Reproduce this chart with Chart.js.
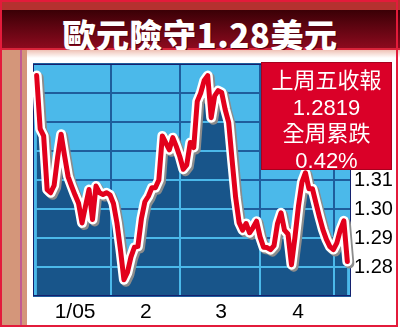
<!DOCTYPE html>
<html>
<head>
<meta charset="utf-8">
<script src="https://cdn.jsdelivr.net/npm/chart.js@4.4.1/dist/chart.umd.min.js"></script>
<style>
  html, body { margin: 0; padding: 0; width: 400px; height: 329px; overflow: hidden; background: #fff; }
  #wrap { position: relative; width: 400px; height: 329px; }
  #topband { position: absolute; left: 0; top: 0; width: 400px; height: 10px; background: #b5312f; }
  #titlebar { position: absolute; left: 0; top: 10px; width: 400px; height: 38px; background: linear-gradient(#3a0006, #8c0a1e); border-bottom: 2px solid #d8243a; }
  #title { position: absolute; left: 0; top: 10px; width: 400px; height: 38px; line-height: 38px; text-align: center; color: #fff;
           font: 900 33px "Noto Sans CJK TC", "Noto Sans CJK SC", sans-serif; letter-spacing: 0.5px; text-shadow: 1px 1px 0 #5a0010; }
  #pink { position: absolute; left: 0; top: 50px; width: 400px; height: 8px; background: linear-gradient(#efc2b6, #fff); }
  #strip { position: absolute; left: 2px; top: 50px; width: 25px; height: 277px; background: #d4967a; }
  #stripline { position: absolute; left: 20px; top: 50px; width: 2px; height: 277px; background: #c25a92; }
  #frame { position: absolute; left: 0; top: 0; width: 398px; height: 327px; box-sizing: border-box; border: 2px solid #e31b3b; z-index: 5; }
  canvas { position: absolute; left: 0; top: 0; }
  #box { position: absolute; left: 261px; top: 62px; width: 131px; height: 108px; box-sizing: border-box; background: #da0028;
         border: 1px solid #a8001e; color: #fff; text-align: center; padding-top: 5px; z-index: 4;
         font: 22px "Liberation Sans", "Noto Sans CJK TC", sans-serif; line-height: 26.5px; }
</style>
</head>
<body>
<div id="wrap">
  <div id="topband"></div>
  <div id="titlebar"></div>
  <div id="title">歐元險守1.28美元</div>
  <div id="pink"></div>
  <div id="strip"></div>
  <div id="stripline"></div>
  <canvas id="euroChart" width="400" height="329"></canvas>
  <div id="box">
    <div>上周五收報</div>
    <div>1.2819</div>
    <div>全周累跌</div>
    <div>0.42%</div>
  </div>
  <div id="frame"></div>
</div>
<script>
// EUR/USD daily closes, Jan to early May 2005
const rate = [
  1.3460, 1.3276, 1.3252, 1.3067, 1.3056, 1.3081, 1.3178, 1.3258, 1.3183, 1.3112,
  1.3079, 1.3048, 1.3020, 1.2952, 1.3010, 1.3067, 1.2964, 1.3079, 1.3056, 1.3050,
  1.3056, 1.3049, 1.3019, 1.2952, 1.2860, 1.2756, 1.2781, 1.2834, 1.2868, 1.2871,
  1.2966, 1.3025, 1.3044, 1.3073, 1.3073, 1.3100, 1.3252, 1.3228, 1.3204, 1.3246,
  1.3216, 1.3181, 1.3137, 1.3152, 1.3229, 1.3212, 1.3371, 1.3400, 1.3443, 1.3460,
  1.3315, 1.3390, 1.3408, 1.3402, 1.3343, 1.3299, 1.3167, 1.3040, 1.2953, 1.2927,
  1.2950, 1.2918, 1.2936, 1.2958, 1.2904, 1.2868, 1.2867, 1.2860, 1.2874, 1.2950,
  1.2987, 1.2927, 1.2914, 1.2808, 1.2903, 1.3010, 1.3093, 1.3125, 1.3070, 1.3070,
  1.3021, 1.2973, 1.2929, 1.2895, 1.2870, 1.2860, 1.2883, 1.2928, 1.2959, 1.2819
];

// month labels and where they sit (day index), month boundaries for the grid
const monthLabels = ["1/05", "2", "3", "4"];
const monthLabelPos = [11.0, 31.3, 52.8, 74.9];
const monthEdges = [21.3, 41.1, 64.0, 85.2];
const yTickLabels = ["1.28", "1.29", "1.30", "1.31"];

const points = rate.map((v, i) => ({x: i, y: v}));

const LIGHT = "#4bb9ea";
const DARK = "#18558a";

function drawGrid(chart, color) {
    const {ctx, chartArea: a, scales: {x, y}} = chart;
    ctx.strokeStyle = color;
    ctx.lineWidth = 2;
    ctx.beginPath();
    monthEdges.forEach((v) => {
        const px = Math.round(x.getPixelForValue(v));
        ctx.moveTo(px, a.top);
        ctx.lineTo(px, a.bottom);
    });
    y.ticks.forEach((t) => {
        const py = Math.round(y.getPixelForValue(t.value));
        ctx.moveTo(a.left, py);
        ctx.lineTo(a.right, py);
    });
    ctx.stroke();
}

// background, two-tone grid, halo shadow and plot border
const plotDecor = {
    id: "plotDecor",
    beforeDatasetsDraw(chart) {
        const {ctx, chartArea: a} = chart;
        ctx.save();
        ctx.fillStyle = LIGHT;
        ctx.fillRect(a.left, a.top, a.right - a.left, a.bottom - a.top);
        drawGrid(chart, "#1f5d9c");
        ctx.restore();
    },
    beforeDatasetDraw(chart, args) {
        if (args.index === 1) {
            const ctx = chart.ctx;
            ctx.save();
            ctx.shadowColor = "#8c8c8c";
            ctx.shadowOffsetX = 2;
            ctx.shadowOffsetY = 2;
            ctx.shadowBlur = 0;
        }
    },
    afterDatasetDraw(chart, args) {
        const ctx = chart.ctx;
        if (args.index === 1) ctx.restore();
        if (args.index === 2) {
            const pts = args.meta.data;
            const a = chart.chartArea;
            ctx.save();
            ctx.beginPath();
            ctx.moveTo(pts[0].x, pts[0].y);
            pts.forEach((p) => ctx.lineTo(p.x, p.y));
            ctx.lineTo(pts[pts.length - 1].x, a.bottom);
            ctx.lineTo(a.left, a.bottom);
            ctx.lineTo(a.left, pts[0].y);
            ctx.closePath();
            ctx.clip();
            drawGrid(chart, LIGHT);
            ctx.restore();

            ctx.save();
            ctx.strokeStyle = "#14206e";
            ctx.lineWidth = 1;
            ctx.strokeRect(a.left + 0.5, a.top + 0.5, a.right - a.left - 1, a.bottom - a.top - 1);
            ctx.restore();
        }
    }
};

new Chart(document.getElementById("euroChart").getContext("2d"), {
    type: "line",
    data: {
        datasets: [
            {
                data: points,
                borderColor: "#e2001c",
                borderWidth: 5,
                borderJoinStyle: "round",
                borderCapStyle: "round",
                pointRadius: 0,
                tension: 0,
                fill: false,
                clip: false,
                order: 0
            },
            {
                data: points,
                borderColor: "#ffffff",
                borderWidth: 10,
                borderJoinStyle: "round",
                borderCapStyle: "round",
                pointRadius: 0,
                tension: 0,
                fill: false,
                clip: false,
                order: 1
            },
            {
                data: points,
                borderWidth: 0,
                borderColor: "rgba(0,0,0,0)",
                backgroundColor: DARK,
                pointRadius: 0,
                tension: 0,
                fill: "start",
                order: 2
            }
        ]
    },
    options: {
        responsive: false,
        animation: false,
        events: [],
        layout: {padding: {left: 33, top: 64, right: 0, bottom: 0}},
        plugins: {
            legend: {display: false},
            tooltip: {enabled: false}
        },
        scales: {
            x: {
                type: "linear",
                min: -1.05,
                max: 90.05,
                bounds: "data",
                grid: {display: false, drawTicks: false},
                border: {display: false},
                afterBuildTicks: (s) => {
                    s.ticks = monthLabelPos.map((v) => ({value: v}));
                },
                afterFit: (s) => {
                    s.height = 33;
                },
                ticks: {
                    autoSkip: false,
                    maxRotation: 0,
                    padding: 4,
                    color: "#000",
                    font: {family: "Liberation Sans", size: 21},
                    callback: (v, i) => monthLabels[i]
                }
            },
            y: {
                type: "linear",
                position: "right",
                min: 1.27,
                max: 1.35,
                bounds: "data",
                grid: {display: false, drawTicks: false},
                border: {display: false},
                afterFit: (s) => {
                    s.width = 49;
                },
                ticks: {
                    stepSize: 0.01,
                    padding: 3,
                    color: "#000",
                    font: {family: "Liberation Sans", size: 20},
                    callback: (v) => {
                        const s = Number(v).toFixed(2);
                        return yTickLabels.includes(s) ? s : "";
                    }
                }
            }
        }
    },
    plugins: [plotDecor]
});
</script>
</body>
</html>
